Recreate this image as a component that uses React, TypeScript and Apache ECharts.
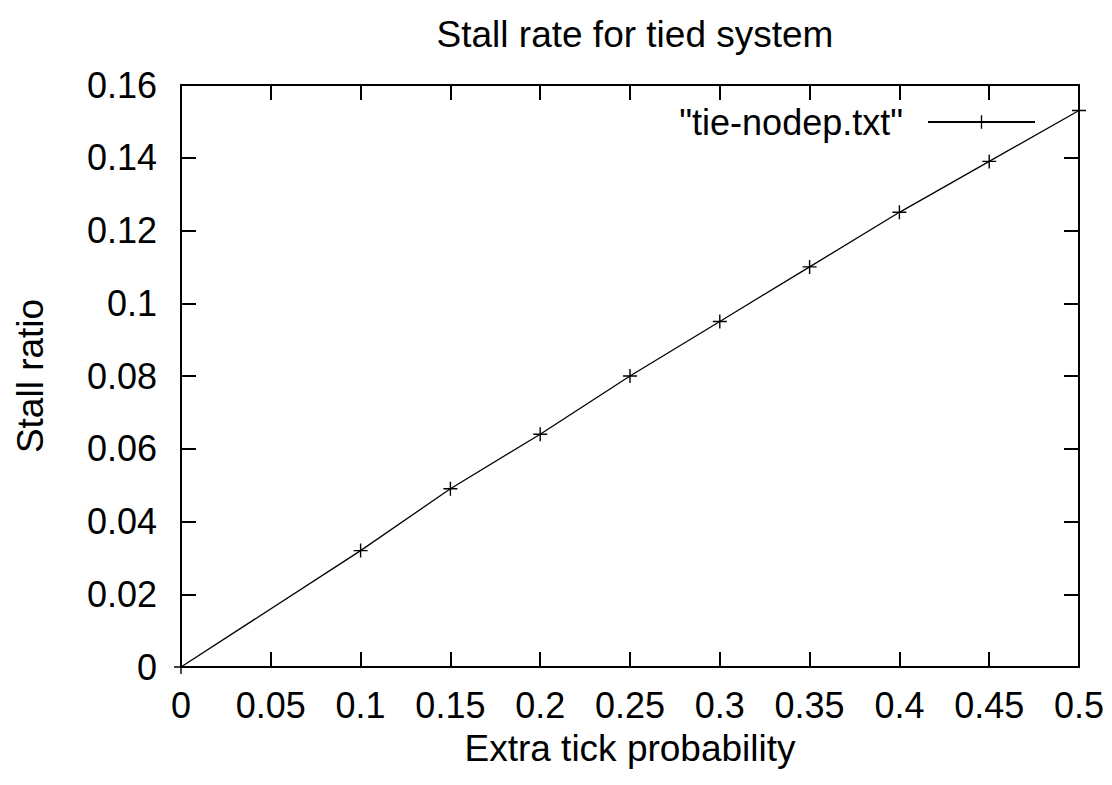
import React, { useEffect, useRef } from "react";
import * as echarts from "echarts";

const xValues = [0, 0.1, 0.15, 0.2, 0.25, 0.3, 0.35, 0.4, 0.45, 0.5];
const yValues = [0, 0.032, 0.049, 0.064, 0.08, 0.095, 0.11, 0.125, 0.139, 0.153];
const seriesName = '"tie-nodep.txt"';
const titleText = "Stall rate for tied system";
const xName = "Extra tick probability";
const yName = "Stall ratio";

const FONT = "'Liberation Sans', Arial, sans-serif";
const PLUS = "path://M-1,-10H1V-1H10V1H1V10H-1V1H-10V-1H-1Z";

export default function App() {
  const ref = useRef<HTMLDivElement>(null);
  useEffect(() => {
    if (!ref.current) return;
    const chart = echarts.init(ref.current, null, { renderer: "svg" });
    const axisLine = { show: true, onZero: false, lineStyle: { color: "#000", width: 2 } };
    const tick = { show: true, inside: true, length: 15, lineStyle: { color: "#000", width: 2 } };
    const label = { color: "#000", fontSize: 36, fontFamily: FONT };
    chart.setOption({
      animation: false,
      backgroundColor: "#fff",
      title: {
        text: titleText,
        left: 630,
        top: 11,
        textAlign: "center",
        textStyle: { color: "#000", fontSize: 37, fontWeight: "normal", fontFamily: FONT },
      },
      legend: {
        right: 71,
        top: 99,
        align: "right",
        itemWidth: 107,
        itemHeight: 17,
        data: [seriesName],
        textStyle: { color: "#000", fontSize: 36, fontFamily: FONT, padding: [0, 20, 0, 0] },
      },
      grid: { left: 181, right: 33, top: 85, bottom: 118, containLabel: false },
      xAxis: [
        {
          type: "value",
          min: 0,
          max: 0.5,
          interval: 0.05,
          position: "bottom",
          name: xName,
          nameLocation: "middle",
          nameGap: 63,
          nameTextStyle: { color: "#000", fontSize: 37, fontFamily: FONT },
          axisLine,
          axisTick: tick,
          axisLabel: { ...label, margin: 20, formatter: (v: number) => String(+v.toFixed(2)) },
          splitLine: { show: false },
        },
        {
          type: "value",
          min: 0,
          max: 0.5,
          interval: 0.05,
          position: "top",
          axisLine,
          axisTick: tick,
          axisLabel: { show: false },
          splitLine: { show: false },
        },
      ],
      yAxis: [
        {
          type: "value",
          min: 0,
          max: 0.16,
          interval: 0.02,
          position: "left",
          name: yName,
          nameLocation: "middle",
          nameGap: 132,
          nameTextStyle: { color: "#000", fontSize: 37, fontFamily: FONT },
          axisLine,
          axisTick: tick,
          axisLabel: { ...label, margin: 24, formatter: (v: number) => String(+v.toFixed(2)) },
          splitLine: { show: false },
        },
        {
          type: "value",
          min: 0,
          max: 0.16,
          interval: 0.02,
          position: "right",
          axisLine,
          axisTick: tick,
          axisLabel: { show: false },
          splitLine: { show: false },
        },
      ],
      series: [
        {
          name: seriesName,
          type: "line",
          data: xValues.map((x, i) => [x, yValues[i]]),
          symbol: PLUS,
          symbolSize: 14,
          showAllSymbol: true,
          itemStyle: { color: "#000" },
          lineStyle: { color: "#000", width: 1.3 },
          clip: false,
        },
      ],
    });
    return () => chart.dispose();
  }, []);
  return <div ref={ref} style={{ width: 1112, height: 785, position: "absolute", left: 0, top: 0 }} />;
}
